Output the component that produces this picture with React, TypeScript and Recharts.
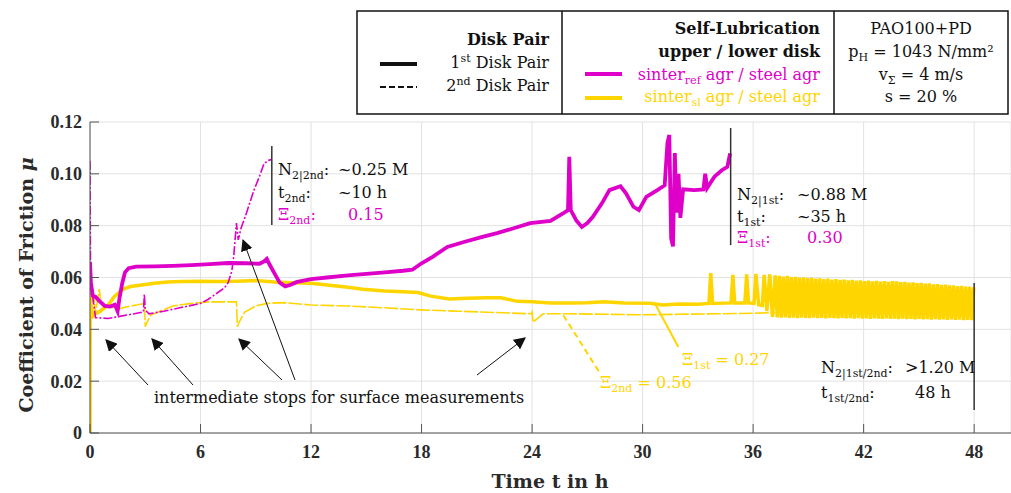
import { LineChart, Line, XAxis, YAxis, CartesianGrid, ReferenceLine } from "recharts";

// time in h, coefficient of friction mu
const timeTicks = [0, 6, 12, 18, 24, 30, 36, 42, 48];
const muTicks = [0, 0.02, 0.04, 0.06, 0.08, 0.1, 0.12];

// sinter_ref agr / steel agr, 1st disk pair
const refFirst: [number, number][] = [
    [0, 0.066], [0.05, 0.058], [0.15, 0.053], [0.3, 0.0525], [0.5, 0.051], [0.8, 0.049], [1.1, 0.0488],
    [1.35, 0.0495], [1.5, 0.047], [1.6, 0.052], [1.75, 0.0578], [1.9, 0.062], [2.1, 0.0636], [2.5, 0.0642],
    [3.5, 0.0643], [4.5, 0.0645], [5.5, 0.0648], [6.5, 0.0652], [7.5, 0.0656], [8.5, 0.0655], [9.2, 0.0653],
    [9.45, 0.0662], [9.6, 0.0672], [9.75, 0.065], [10.0, 0.0618], [10.3, 0.058], [10.6, 0.0566], [10.9, 0.0572],
    [11.2, 0.0582], [12, 0.0594], [13, 0.0601], [14, 0.0608], [15, 0.0614], [16, 0.062], [17, 0.0626],
    [17.5, 0.063], [18, 0.0655], [18.6, 0.068], [19.4, 0.0718], [20.3, 0.0737], [21.2, 0.0755], [22.1, 0.0771],
    [23, 0.079], [23.9, 0.081], [25.0, 0.0818], [25.7, 0.0848], [25.95, 0.086], [26.02, 0.1066], [26.1, 0.086],
    [26.4, 0.082], [26.7, 0.0795], [27.0, 0.081], [27.3, 0.0834], [27.8, 0.0887], [28.2, 0.0937], [28.8, 0.0952],
    [29.1, 0.0925], [29.5, 0.0873], [29.8, 0.086], [30.2, 0.0911], [30.8, 0.0937], [31.2, 0.0956], [31.35, 0.112],
    [31.45, 0.115], [31.55, 0.075], [31.65, 0.072], [31.75, 0.108], [31.85, 0.085], [31.95, 0.1], [32.05, 0.083],
    [32.2, 0.094], [32.8, 0.0937], [33.3, 0.094], [33.4, 0.1], [33.5, 0.0945], [33.9, 0.0989], [34.3, 0.1014],
    [34.6, 0.1027], [34.75, 0.1079],
];

// sinter_ref agr / steel agr, 2nd disk pair
const refSecond: [number, number][] = [
    [0, 0.105], [0.03, 0.062], [0.1, 0.055], [0.2, 0.05], [0.3, 0.0445], [1, 0.0442], [2, 0.0455], [2.9, 0.0467],
    [2.95, 0.0535], [3.0, 0.0475], [3.2, 0.046], [4, 0.047], [5, 0.0485], [6, 0.05], [6.4, 0.0515], [6.7, 0.053],
    [7.0, 0.0545], [7.3, 0.056], [7.5, 0.058], [7.7, 0.0625], [7.8, 0.068], [7.95, 0.081], [8.05, 0.0745],
    [8.2, 0.079], [8.5, 0.085], [8.9, 0.0937], [9.2, 0.099], [9.45, 0.104], [9.7, 0.1052], [9.85, 0.1055],
];

// sinter_sl agr / steel agr, 1st disk pair
const slFirst: [number, number][] = [
    [0, 0], [0.01, 0.057], [0.05, 0.05], [0.15, 0.045], [0.3, 0.046], [0.55, 0.047], [1.0, 0.0495], [1.3, 0.0525],
    [1.8, 0.0555], [2.2, 0.0565], [2.7, 0.057], [3.5, 0.0578], [4.2, 0.0583], [5, 0.0585], [6, 0.0586], [7, 0.0585],
    [8, 0.0586], [9, 0.0588], [10, 0.0583], [11, 0.058], [12, 0.0578], [13, 0.057], [14, 0.0562], [14.8, 0.0555],
    [16, 0.0548], [17, 0.0545], [17.8, 0.0542], [18.5, 0.0528], [19.5, 0.0517], [20.5, 0.052], [21.5, 0.0522],
    [22.3, 0.0522], [23.2, 0.0508], [24, 0.0506], [25, 0.0502], [26, 0.0502], [27, 0.0503], [27.9, 0.0506],
    [29, 0.0502], [30.4, 0.0501], [31.1, 0.0494], [32, 0.0498], [33, 0.0497], [33.6, 0.05], [33.7, 0.0617],
    [33.8, 0.05], [34.8, 0.0502], [34.9, 0.061], [35.0, 0.0502], [35.55, 0.0502], [35.65, 0.0612], [35.75, 0.0502],
    [36.05, 0.05], [36.15, 0.0614], [36.3, 0.0495], [36.5, 0.0492], [36.6, 0.061], [36.75, 0.047], [36.9, 0.0612],
    [37.05, 0.0448], [37.2, 0.0608], [37.31, 0.0446], [37.42, 0.0606], [37.53, 0.0445], [37.64, 0.0604],
    [37.75, 0.0446], [37.86, 0.0606], [37.97, 0.0444], [38.08, 0.0602], [38.19, 0.0445], [38.3, 0.0603],
    [38.41, 0.0443], [38.52, 0.06], [38.63, 0.0445], [38.74, 0.0601], [38.85, 0.0444], [38.96, 0.0598],
    [39.07, 0.0443], [39.18, 0.0599], [39.29, 0.0445], [39.4, 0.0596], [39.51, 0.0443], [39.62, 0.0597],
    [39.73, 0.0444], [39.84, 0.0594], [39.95, 0.0442], [40.06, 0.0596], [40.17, 0.0444], [40.28, 0.0592],
    [40.39, 0.0443], [40.5, 0.0594], [40.61, 0.0442], [40.72, 0.0591], [40.83, 0.0444], [40.94, 0.0592],
    [41.05, 0.0442], [41.16, 0.0589], [41.27, 0.0443], [41.38, 0.0591], [41.49, 0.0441], [41.6, 0.0588],
    [41.71, 0.0443], [41.82, 0.0589], [41.93, 0.0441], [42.04, 0.0586], [42.15, 0.0442], [42.26, 0.0588],
    [42.37, 0.044], [42.48, 0.0585], [42.59, 0.0442], [42.7, 0.0587], [42.81, 0.0441], [42.92, 0.0584],
    [43.03, 0.044], [43.14, 0.0586], [43.25, 0.0442], [43.36, 0.0583], [43.47, 0.044], [43.58, 0.0586],
    [43.69, 0.0441], [43.8, 0.0585], [43.91, 0.0439], [44.02, 0.0582], [44.13, 0.0441], [44.24, 0.0583],
    [44.35, 0.0439], [44.46, 0.058], [44.57, 0.044], [44.68, 0.0581], [44.79, 0.0438], [44.9, 0.0578],
    [45.01, 0.044], [45.12, 0.0579], [45.23, 0.0438], [45.34, 0.0576], [45.45, 0.0439], [45.56, 0.0577],
    [45.67, 0.0437], [45.78, 0.0574], [45.89, 0.0439], [46.0, 0.0575], [46.11, 0.0437], [46.22, 0.0572],
    [46.33, 0.0438], [46.44, 0.0573], [46.55, 0.0436], [46.66, 0.057], [46.77, 0.0438], [46.88, 0.057],
    [46.99, 0.0436], [47.1, 0.0567], [47.21, 0.0437], [47.32, 0.0568], [47.43, 0.0435], [47.54, 0.0565],
    [47.65, 0.0436], [47.76, 0.0565], [47.87, 0.0435], [47.98, 0.0562],
];

// sinter_sl agr / steel agr, 2nd disk pair
const slSecond: [number, number][] = [
    [0.02, 0.044], [0.1, 0.048], [0.2, 0.053], [0.3, 0.046], [0.4, 0.051], [0.5, 0.0555], [0.6, 0.0505],
    [0.8, 0.0493], [1.2, 0.0485], [1.6, 0.048], [2.2, 0.049], [2.6, 0.0495], [2.95, 0.05], [3.0, 0.041],
    [3.1, 0.0428], [3.3, 0.0455], [3.8, 0.047], [4.5, 0.049], [5.5, 0.05], [6.5, 0.0506], [7.5, 0.0506],
    [7.95, 0.0506], [8.0, 0.041], [8.1, 0.0428], [8.4, 0.0467], [9.0, 0.049], [9.6, 0.05], [10.5, 0.0503],
    [12, 0.0494], [14, 0.049], [16, 0.0483], [18, 0.0475], [20, 0.047], [22, 0.0465], [23.95, 0.046],
    [24.0, 0.0467], [24.05, 0.0428], [24.6, 0.046], [26, 0.046], [28, 0.0458], [30, 0.0456], [32, 0.0458],
    [34, 0.046], [36, 0.0462], [37.2, 0.0465],
];

const MAGENTA = "#DE00C8";
const YELLOW = "#FFD500";
const SERIF = "'DejaVu Serif', serif";
const TICK_FONT = "'Liberation Serif', serif";

const toPoints = (rows: [number, number][]) => rows.map(([t, mu]) => ({ t, mu }));

function Overlay() {
    const arrows = [
        [148, 385, 106, 340],
        [193, 385, 152, 339],
        [282, 380, 239, 339],
        [295, 380, 243, 240],
        [477, 375, 525, 338],
    ];
    return (
        <svg width={1011} height={493} style={{ position: "absolute", left: 0, top: 0, pointerEvents: "none" }}>
            <defs>
                <marker id="arrowHead" viewBox="0 0 10 10" refX="9" refY="5" markerWidth="12" markerHeight="12" markerUnits="userSpaceOnUse" orient="auto">
                    <path d="M0,0 L10,5 L0,10 z" fill="#111" />
                </marker>
            </defs>

            {/* legend table */}
            <rect x={357} y={11} width={651} height={103} fill="#fff" stroke="#111" strokeWidth={1.5} />
            <line x1={562} y1={11} x2={562} y2={114} stroke="#111" strokeWidth={1.5} />
            <line x1={834} y1={11} x2={834} y2={114} stroke="#111" strokeWidth={1.5} />
            <g fontFamily={SERIF} fontSize={16} fill="#111">
                <text x={549} y={45} textAnchor="end" fontWeight="bold">Disk Pair</text>
                <text x={549} y={68} textAnchor="end">1<tspan fontSize={11} dy={-6}>st</tspan><tspan dy={6}> Disk Pair</tspan></text>
                <text x={549} y={91} textAnchor="end">2<tspan fontSize={11} dy={-6}>nd</tspan><tspan dy={6}> Disk Pair</tspan></text>
                <line x1={380} y1={64} x2={417} y2={64} stroke="#111" strokeWidth={4} />
                <line x1={380} y1={87} x2={417} y2={87} stroke="#111" strokeWidth={2} strokeDasharray="6 3" />

                <text x={820} y={34} textAnchor="end" fontWeight="bold">Self-Lubrication</text>
                <text x={820} y={57} textAnchor="end" fontWeight="bold">upper / lower disk</text>
                <text x={820} y={80} textAnchor="end" fill={MAGENTA}>sinter<tspan fontSize={11} dy={4}>ref</tspan><tspan dy={-4}> agr / steel agr</tspan></text>
                <text x={820} y={102} textAnchor="end" fill={YELLOW}>sinter<tspan fontSize={11} dy={4}>sl</tspan><tspan dy={-4}> agr / steel agr</tspan></text>
                <line x1={585} y1={74} x2={622} y2={74} stroke={MAGENTA} strokeWidth={4} />
                <line x1={585} y1={98} x2={622} y2={98} stroke={YELLOW} strokeWidth={4} />

                <text x={921} y={34} textAnchor="middle">PAO100+PD</text>
                <text x={921} y={57} textAnchor="middle">p<tspan fontSize={11} dy={4}>H</tspan><tspan dy={-4}> = 1043 N/mm²</tspan></text>
                <text x={921} y={80} textAnchor="middle">v<tspan fontSize={11} dy={4}>Σ</tspan><tspan dy={-4}> = 4 m/s</tspan></text>
                <text x={921} y={102} textAnchor="middle">s = 20 %</text>
            </g>

            {/* annotations */}
            <g fontFamily={SERIF} fontSize={16} fill="#111">
                <text x={278} y={175}>N<tspan fontSize={11} dy={4}>2|2nd</tspan><tspan dy={-4}>:</tspan></text>
                <text x={338} y={175}>~0.25 M</text>
                <text x={278} y={198}>t<tspan fontSize={11} dy={4}>2nd</tspan><tspan dy={-4}>:</tspan></text>
                <text x={338} y={198}>~10 h</text>
                <text x={278} y={220} fill={MAGENTA}>Ξ<tspan fontSize={11} dy={4}>2nd</tspan><tspan dy={-4}>:</tspan></text>
                <text x={348} y={220} fill={MAGENTA}>0.15</text>

                <text x={737} y={200}>N<tspan fontSize={11} dy={4}>2|1st</tspan><tspan dy={-4}>:</tspan></text>
                <text x={797} y={200}>~0.88 M</text>
                <text x={737} y={222}>t<tspan fontSize={11} dy={4}>1st</tspan><tspan dy={-4}>:</tspan></text>
                <text x={797} y={222}>~35 h</text>
                <text x={737} y={243} fill={MAGENTA}>Ξ<tspan fontSize={11} dy={4}>1st</tspan><tspan dy={-4}>:</tspan></text>
                <text x={807} y={243} fill={MAGENTA}>0.30</text>

                <text x={821} y={373}>N<tspan fontSize={11} dy={4}>2|1st/2nd</tspan><tspan dy={-4}>:</tspan></text>
                <text x={905} y={373}>&gt;1.20 M</text>
                <text x={821} y={398}>t<tspan fontSize={11} dy={4}>1st/2nd</tspan><tspan dy={-4}>:</tspan></text>
                <text x={915} y={398}>48 h</text>

                <text x={682} y={365} fill={YELLOW}>Ξ<tspan fontSize={11} dy={4}>1st</tspan><tspan dy={-4}> = 0.27</tspan></text>
                <text x={600} y={388} fill={YELLOW}>Ξ<tspan fontSize={11} dy={4}>2nd</tspan><tspan dy={-4}> = 0.56</tspan></text>

                <text x={154} y={403}>intermediate stops for surface measurements</text>
            </g>
            {arrows.map(([x1, y1, x2, y2], i) => (
                <line key={i} x1={x1} y1={y1} x2={x2} y2={y2} stroke="#111" strokeWidth={1} markerEnd="url(#arrowHead)" />
            ))}

            {/* axis titles */}
            <text x={550} y={488} textAnchor="middle" fontFamily={SERIF} fontSize={19} fontWeight="bold" fill="#2a2a2a">Time t in h</text>
            <text x={33} y={285} transform="rotate(-90 33 285)" textAnchor="middle" fontFamily={SERIF} fontSize={19} fontWeight="bold" fill="#2a2a2a">
                Coefficient of Friction <tspan fontStyle="italic">μ</tspan>
            </text>
        </svg>
    );
}

export default function App() {
    const tickStyle = { fontFamily: TICK_FONT, fontSize: 18, fontWeight: "bold", fill: "#2a2a2a" };
    return (
        <div style={{ position: "absolute", left: 0, top: 0, width: 1011, height: 493, background: "#fff" }}>
            <LineChart width={1011} height={493} margin={{ top: 122, right: 0, bottom: 0, left: 0 }}>
                <CartesianGrid stroke="#e2e2e2" strokeWidth={1} />
                <XAxis
                    dataKey="t"
                    type="number"
                    domain={[0, 50]}
                    ticks={timeTicks}
                    allowDataOverflow
                    height={60}
                    stroke="#555"
                    tickSize={-9}
                    tickMargin={21}
                    tick={tickStyle}
                />
                <YAxis
                    type="number"
                    domain={[0, 0.12]}
                    ticks={muTicks}
                    width={90}
                    stroke="#555"
                    tickSize={-9}
                    tickMargin={17}
                    tick={tickStyle}
                    tickFormatter={(v: number) => (v === 0 ? "0" : v.toFixed(2))}
                />
                <Line data={toPoints(slSecond)} dataKey="mu" type="linear" dot={false} stroke={YELLOW} strokeWidth={1.6} strokeDasharray="14 2" isAnimationActive={false} />
                <Line data={toPoints(slFirst)} dataKey="mu" type="linear" dot={false} stroke={YELLOW} strokeWidth={3.5} isAnimationActive={false} />
                <Line data={toPoints(refSecond)} dataKey="mu" type="linear" dot={false} stroke={MAGENTA} strokeWidth={1.6} strokeDasharray="9 2 2 2" isAnimationActive={false} />
                <Line data={toPoints(refFirst)} dataKey="mu" type="linear" dot={false} stroke={MAGENTA} strokeWidth={3.8} isAnimationActive={false} />

                <ReferenceLine segment={[{ x: 9.87, y: 0.1107 }, { x: 9.87, y: 0.0803 }]} stroke="#333" strokeWidth={1.5} />
                <ReferenceLine segment={[{ x: 34.78, y: 0.1177 }, { x: 34.78, y: 0.0725 }]} stroke="#333" strokeWidth={1.5} />
                <ReferenceLine segment={[{ x: 48, y: 0.0579 }, { x: 48, y: 0.0089 }]} stroke="#333" strokeWidth={1.5} />
                <ReferenceLine segment={[{ x: 30.67, y: 0.05 }, { x: 31.94, y: 0.0332 }]} stroke={YELLOW} strokeWidth={2} />
                <ReferenceLine segment={[{ x: 25.7, y: 0.0454 }, { x: 27.7, y: 0.0229 }]} stroke={YELLOW} strokeWidth={2} strokeDasharray="6 4" />
            </LineChart>
            <Overlay />
        </div>
    );
}
